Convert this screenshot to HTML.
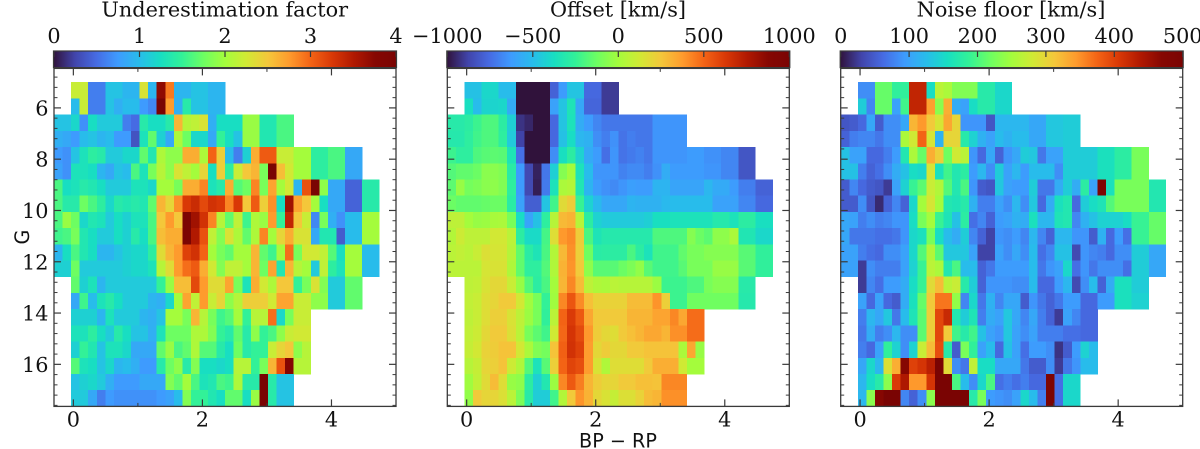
<!DOCTYPE html>
<html lang="en">
<head>
<meta charset="utf-8">
<title>Underestimation factor, offset and noise floor heatmaps</title>
<style>
html,body{margin:0;padding:0;background:#fff;width:1200px;height:449px;overflow:hidden}
svg{display:block}
text{fill:#111}
.serif{font-family:"DejaVu Serif","Liberation Serif",serif;font-size:20.8px}
.sans{font-family:"DejaVu Sans","Liberation Sans",sans-serif;font-size:19.2px}
</style>
</head>
<body>
<svg id="figure" xmlns="http://www.w3.org/2000/svg" width="1200" height="449" viewBox="0 0 1200 449">
  <defs id="defs"></defs>
  <g id="panel-0"></g>
  <g id="panel-1"></g>
  <g id="panel-2"></g>
  <text class="serif" x="224.7" y="16.5" text-anchor="middle">Underestimation factor</text>
  <text class="serif" x="618" y="16.5" text-anchor="middle">Offset [km/s]</text>
  <text class="serif" x="1011" y="16.5" text-anchor="middle">Noise floor [km/s]</text>
  <text class="sans" x="618" y="447.5" text-anchor="middle">BP − RP</text>
  <text class="sans" x="29" y="237" text-anchor="middle" transform="rotate(-90 29 237)">G</text>
</svg>
<script>
const _ = null;
const underestimationRows = [
[_,_,2.2,2.2,.6,.6,1.05,1.05,.95,.95,2.3,.95,3.7,2.9,.95,.95,1.05,1.05,.95,.95],
[_,_,1,2.2,.6,.6,1.05,.9,1,1,.75,.65,4,2.75,.9,1.4,1.05,1.05,.95,.95],
[1.05,1.05,1.2,.7,1.25,1.1,1.1,1.1,.6,.5,1.4,1.25,1.25,1.4,2.6,2.1,2.15,2.3,.9,1.25,1.25,1.25,1.95,1.95,1.35,1.35,1.6,1.6],
[.9,.85,.75,1,1.05,.95,1,.75,.75,.35,1.3,1.7,1.15,.85,2.05,1.75,1.2,1.2,.85,1.5,1.25,1.05,1.95,1.95,1.35,1.35,1.6,1.6],
[.75,.7,1.05,1.3,1.45,1.4,1.1,1.1,1.2,1.2,1.7,1.35,2.05,1.9,1.9,2.65,2.65,2.05,3,2.45,1,.6,1.15,2.65,3.05,3.05,2.2,2.2,2,2,1.45,1.45,1.6,1.6,.85,.85],
[.8,.7,1.3,1.3,1.25,.95,.85,1.05,1,1.6,1.3,1.8,2.1,1.9,2.3,2.15,2,2.4,1.25,2.45,1.45,2.2,2.5,2.6,1.8,4,2.55,2.25,2,2,1.45,1.45,1.6,1.6,.85,.85],
[1.6,1.25,1.3,1.4,1.35,1.25,1.1,1.1,1.1,1.3,1.3,1.2,2,2,1.8,2.65,2.65,2.85,1.3,1.4,2.65,1.65,1.75,2.85,1.8,2.7,2,2.25,.95,3.1,4,1.9,.85,.85,.45,.45,1.4,1.4],
[1.6,1.4,1.4,1.75,1.6,1.45,1.2,1.4,1.35,1.4,1.35,1.7,2.6,2.4,2.8,3.25,3.35,3.15,3.3,3.25,2.85,3.25,2.5,3.05,2.45,2.8,1.25,3.6,2.7,2.5,2,1.25,.85,.85,.45,.45,1.4,1.4],
[1.6,1.95,1.75,1.2,1.35,1.3,1.1,1.25,1.15,1.3,1.3,1.6,2.5,2.75,2.5,3.95,3.6,3.3,2.85,2.1,1.7,2.15,1.55,2.05,1.95,2.75,1.5,3.4,2.5,2.2,.65,1.8,.9,.7,1,1,2,2],
[1.55,1.6,1.8,1.35,1.25,1.1,1.1,1.25,1.15,1.4,1.25,1.6,2.55,2.65,2.65,3.95,3.5,3.1,2.15,1.85,2.3,2.05,1.7,2.05,2.85,2,2.4,2.65,2.3,2.3,.85,1.35,1.35,.4,1,1,2,2],
[.95,1.25,1.6,1.35,1.25,.95,.95,1.05,1.15,1.2,1.2,1.45,2.35,2.6,2.75,3.2,3.3,3,2,1.8,1.7,2,2,2.6,1.7,1.55,2,2.95,1.8,2.25,2.25,2.15,1.65,1.25,2,2,1,1],
[1.15,1.15,1.75,1.1,1.1,1.1,1.1,1.1,1.15,1.2,1.2,1.3,2.1,2.35,2.75,2.95,3.05,2.65,2.25,1.85,2.15,2.15,2,2.6,1.75,2.7,1.35,2.6,2.1,2,1.1,2.15,1.45,1.3,2,2,1,1],
[_,_,1.7,1.15,1.3,.95,1.1,1.1,1.1,1.1,1.1,1.1,1.5,1.95,2.55,2.55,3.15,2.75,2.35,2.35,2.7,1.8,1.3,2.65,2.25,2.05,2.5,2.5,1.5,1.8,2.3,1.85,1.1,1.1,1.7,1.7],
[_,_,.85,1.55,1,1.3,1.4,1.25,1.1,1.1,1.1,.95,.9,1.2,2,2.7,2.15,2.75,2.2,2.4,1.9,2.1,2.45,2.45,2.45,2.25,2.7,2.7,2.2,2.2,1.9,1.9,1.1,1.1,1.7,1.7],
[_,_,1.15,1.15,1.15,.95,1.3,1.1,1.1,1.1,.95,.9,1.05,2,2,1.8,2.6,2.1,1.8,1.55,1.65,2,1.5,2.1,2.1,2.95,1.2,1.8,2.2,2.2],
[_,_,1.3,1.3,1.45,1.25,1.1,1.4,1.25,1.05,1.05,.9,1.3,1.75,1.75,1.75,2.05,2.05,1.85,1.5,1.4,1.7,1.4,1.9,1.5,1.6,1.9,2.2,2.25,2.25],
[_,_,1.15,1.5,1.35,1.05,1.3,1.3,1.2,.85,.85,.85,1.7,1.95,1.6,1.7,2.05,1.65,1.65,1.4,1.25,1.75,1.4,1.5,1.5,2.2,2.4,2.5,1.9,2.1],
[_,_,1.65,1.3,1.25,1.05,1.2,.95,1,.9,.75,.75,1.4,1.75,1.9,1.4,1.85,1.25,1.25,1.2,1.25,2.1,2.1,1.5,1.8,2.6,3.1,3.8,2.1,2.1],
[_,_,1.05,1.15,1.2,1.1,.9,.75,.75,.75,.85,.85,.85,1.85,1.7,2,1.6,1.3,1.35,1.6,1.55,2.05,1.4,1.4,4,1.4,1.05,1.05],
[_,_,1.1,1.1,.85,.6,.75,.7,.7,.7,.7,.7,.75,.8,1,1.85,1.5,1.5,1.35,1.25,1.7,1.7,1.25,1.95,4,1.4,1.05,1.05]
];
const offsetRows = [
[_,_,-480,-480,-400,-400,-500,-500,-1000,-1000,-1000,-1000,-780,-620,-470,-470,-760,-760,-900,-900],
[_,_,-370,-500,-410,-410,-400,-560,-1000,-1000,-1000,-1000,-600,-470,-340,-580,-770,-770,-900,-900],
[-300,-300,-280,-230,-190,-190,-280,-430,-920,-950,-1000,-1000,-760,-470,-350,-560,-620,-680,-720,-720,-720,-720,-720,-720,-640,-640,-640,-640],
[-310,-310,-270,-220,-190,-190,-270,-450,-880,-1000,-1000,-1000,-760,-480,-380,-520,-540,-660,-700,-650,-730,-700,-720,-720,-640,-640,-640,-640],
[-230,-270,-270,-190,-170,-160,-170,-340,-740,-1000,-1000,-1000,-660,-370,-280,-420,-570,-620,-740,-640,-730,-710,-690,-720,-640,-640,-640,-640,-620,-620,-650,-650,-680,-680,-820,-820],
[-180,-150,-150,-130,-60,-60,-80,-290,-620,-860,-960,-720,-430,-70,0,-350,-500,-640,-640,-640,-690,-670,-670,-700,-650,-560,-620,-620,-620,-620,-640,-640,-680,-680,-820,-820],
[-160,-30,-110,-90,-60,-50,-80,-270,-620,-860,-970,-710,-350,20,40,-330,-530,-620,-650,-670,-640,-610,-620,-620,-530,-530,-590,-590,-590,-590,-520,-570,-570,-620,-700,-700,-780,-780],
[-130,-150,-150,-150,-140,-130,-130,-290,-600,-790,-790,-470,-220,180,230,-240,-420,-510,-580,-580,-580,-530,-540,-540,-540,-510,-500,-500,-500,-500,-500,-600,-600,-600,-680,-680,-760,-760],
[70,70,0,-30,-20,10,20,-100,-380,-590,-480,-270,50,290,310,50,-280,-420,-450,-450,-450,-450,-450,-430,-370,-370,-350,-350,-350,-350,-350,-310,-310,-350,-280,-280,-370,-370],
[40,110,70,70,70,130,130,60,-280,-390,-390,-210,170,380,410,230,-200,-340,-310,-310,-310,-310,-310,-310,-190,-190,-190,-190,-70,-130,-160,-50,-50,20,-330,-330,-400,-400],
[60,80,60,100,160,140,140,50,-150,-290,-340,-200,40,290,400,220,-120,-290,-280,-280,-280,-200,-280,-350,-220,-220,-220,-150,-100,-100,-70,-70,-70,-70,-170,-170,-260,-260],
[60,60,60,60,140,150,150,30,-150,-270,-270,-180,30,310,390,240,-50,-170,-170,-170,-130,-90,-40,-170,-220,-220,-220,-170,-100,-100,-100,-30,-30,-30,-170,-170,-260,-260],
[_,_,70,80,150,190,190,100,-30,-180,-280,-200,0,300,420,280,70,30,20,60,50,50,50,50,-20,-230,-230,-230,-190,-190,-100,-70,-70,-70,-300,-300],
[_,_,80,100,170,200,240,240,130,-10,-100,-250,-10,420,540,410,270,210,210,210,210,280,280,280,390,220,-230,-230,-120,-120,-120,-120,-120,-120,-310,-310],
[_,_,70,100,170,220,220,150,70,-20,-100,-260,60,500,620,530,340,240,240,240,240,300,300,300,350,350,420,340,480,480],
[_,_,80,110,190,240,240,160,60,-100,-160,-220,120,490,640,570,380,230,190,170,240,270,300,340,340,300,400,400,480,480],
[_,_,90,130,210,230,260,260,130,20,-80,-110,260,510,650,600,370,190,230,190,190,240,240,260,260,260,260,20,340,-30],
[_,_,50,90,200,220,260,110,30,-180,-350,-170,220,500,590,560,370,150,30,170,170,170,170,240,320,320,320,120,0,0],
[_,_,-10,80,180,280,170,-30,-50,-280,-430,-320,-20,420,530,440,300,230,200,200,240,240,270,270,260,420,420,420],
[_,_,-40,240,200,200,160,60,-90,-300,-440,-440,-220,40,240,390,310,190,150,90,160,160,210,280,300,400,400,400]
];
const noiseFloorRows = [
[_,_,85,85,215,215,185,185,425,425,155,265,255,230,230,230,175,175,150,150],
[_,_,140,80,215,215,100,195,425,425,340,235,330,110,100,155,175,175,150,150],
[45,50,60,105,50,85,85,105,325,345,310,285,335,300,90,90,90,45,120,120,120,120,105,105,135,135,140,140],
[55,75,80,80,70,85,85,255,280,375,285,115,300,300,175,145,115,100,125,115,125,125,105,105,135,135,140,140],
[130,100,100,60,60,75,95,170,255,215,330,305,220,280,265,90,60,105,55,90,105,140,135,70,100,100,140,140,140,140,160,160,180,180,225,225],
[130,130,75,55,65,85,110,130,155,150,285,160,195,170,180,95,120,85,140,100,120,95,125,125,125,85,140,140,140,140,160,160,180,180,225,225],
[50,80,60,50,45,25,100,145,190,210,275,260,205,170,200,90,50,45,135,100,95,95,140,70,70,110,140,110,180,100,490,160,225,225,225,225,170,170],
[50,50,85,45,15,55,80,55,150,250,285,250,170,165,175,115,75,75,100,85,120,85,135,60,110,160,170,60,140,155,165,205,225,225,225,225,170,170],
[105,100,75,85,75,80,90,90,155,225,250,190,165,130,180,65,80,55,95,100,115,110,160,120,120,165,170,80,115,130,145,145,145,155,190,190,215,215],
[105,70,70,70,65,65,70,90,150,160,225,155,125,110,140,80,55,30,90,85,95,80,120,80,55,120,120,90,90,50,115,60,95,65,190,190,215,215],
[100,100,75,65,60,85,85,100,150,205,260,210,135,135,135,100,30,30,100,85,105,85,125,65,80,130,130,35,90,80,75,60,85,85,140,140,105,105],
[100,100,25,85,75,75,75,100,145,190,265,255,170,200,125,125,55,70,95,95,95,95,125,70,90,100,150,65,90,70,85,85,85,65,140,140,105,105],
[_,_,25,80,65,95,95,110,155,190,295,320,265,275,175,140,55,90,90,90,85,85,125,60,60,95,120,35,85,125,55,110,160,160,140,140],
[_,_,100,60,100,60,50,110,160,215,310,365,365,240,80,150,70,115,80,105,105,50,90,70,55,70,95,95,60,60,95,95,160,160,145,145],
[_,_,75,120,105,135,70,125,165,210,305,395,420,170,140,165,75,110,100,135,105,80,105,75,55,25,100,80,60,60],
[_,_,70,110,75,85,120,85,85,210,305,395,310,195,175,195,130,100,90,135,100,85,100,75,75,75,65,65,60,60],
[_,_,75,60,100,185,145,85,145,275,320,390,175,50,225,185,100,125,60,130,100,65,95,95,85,20,50,95,145,125],
[_,_,105,150,120,290,330,470,400,410,430,500,295,85,70,270,155,155,105,105,105,70,50,50,85,25,70,90,125,125],
[_,_,120,155,175,235,405,440,345,345,410,500,500,200,125,85,150,200,65,75,65,75,60,60,490,65,150,150],
[_,_,120,235,470,500,500,80,55,85,235,500,500,500,500,175,225,95,90,85,100,150,125,75,495,65,150,150]
];
const colorbarTicksUnder = [0,1,2,3,4];
const colorbarTicksOffset = [-1000,-500,0,500,1000];
const colorbarTicksNoise = [0,100,200,300,400,500];
const xMajorTicks = [0,2,4];
const xMinorTicks = [1,3];
const yMajorTicks = [6,8,10,12,14,16];
const yMinorTicks = [4.8,5.2,5.6,6.4,6.8,7.2,7.6,8.4,8.8,9.2,9.6,10.4,10.8,11.2,11.6,12.4,12.8,13.2,13.6,14.4,14.8,15.2,15.6,16.4,16.8,17.2,17.6];

const NS = 'http://www.w3.org/2000/svg';
const FRAME_COLOR = '#3a3a3a';
const X_MIN = -0.3, X_MAX = 5, X_STEP = 5.04 / 38;
const G_TOP = 4.46, G_BOTTOM = 17.64, G_START = 5, G_STEP = 0.632;
const TOP = 68.4, BOTTOM = 406.4, PANEL_W = 342;
const CB_TOP = 51, CB_BOTTOM = 67.6;
const TURBO = [[48,18,59],[65,69,171],[70,107,227],[62,155,254],[40,188,235],[24,222,194],[50,241,152],[109,254,98],[164,252,60],[209,233,52],[244,199,58],[254,155,45],[243,99,21],[217,56,6],[177,25,1],[134,7,2],[122,4,3]];

function turbo(t) {
  const x = Math.max(0, Math.min(1, t)) * (TURBO.length - 1);
  const i = Math.min(TURBO.length - 2, Math.floor(x));
  const f = x - i;
  const c = k => Math.round(TURBO[i][k] + (TURBO[i + 1][k] - TURBO[i][k]) * f);
  return 'rgb(' + c(0) + ',' + c(1) + ',' + c(2) + ')';
}
function el(parent, tag, attrs) {
  const e = document.createElementNS(NS, tag);
  for (const k in attrs) e.setAttribute(k, attrs[k]);
  parent.appendChild(e);
  return e;
}
function tickLine(g, x1, y1, x2, y2, w) {
  const l = el(g, 'line', {x1: x1, y1: y1, x2: x2, y2: y2, stroke: FRAME_COLOR, 'stroke-width': w});
  
  
}

const panels = [
  {left: 54, rows: underestimationRows, vmin: 0, vmax: 4, cb: colorbarTicksUnder, yLabels: true},
  {left: 447.3, rows: offsetRows, vmin: -1000, vmax: 1000, cb: colorbarTicksOffset, yLabels: false},
  {left: 840.7, rows: noiseFloorRows, vmin: 0, vmax: 500, cb: colorbarTicksNoise, yLabels: false}
];
const defs = document.getElementById('defs');

panels.forEach(function (p, idx) {
  const g = document.getElementById('panel-' + idx);
  const right = p.left + PANEL_W;
  const xScale = v => p.left + (v - X_MIN) / (X_MAX - X_MIN) * PANEL_W;
  const yScale = v => TOP + (v - G_TOP) / (G_BOTTOM - G_TOP) * (BOTTOM - TOP);
  const frac = v => (v - p.vmin) / (p.vmax - p.vmin);

  const cells = el(g, 'g', {'shape-rendering': 'crispEdges'});
  
  
  p.rows.forEach(function (row, r) {
    row.forEach(function (v, c) {
      if (v === null) return;
      const x0 = xScale(X_MIN + c * X_STEP), x1 = xScale(X_MIN + (c + 1) * X_STEP);
      const y0 = yScale(G_START + r * G_STEP), y1 = yScale(G_START + (r + 1) * G_STEP);
      const cell = el(cells, 'rect', {x: x0, y: y0, width: x1 - x0 + 0.3, height: y1 - y0 + 0.3, fill: turbo(frac(v))});
      
      
    });
  });

  const frame = el(g, 'rect', {x: p.left, y: TOP, width: PANEL_W, height: BOTTOM - TOP, fill: 'none', stroke: FRAME_COLOR, 'stroke-width': 1.3});
  
  

  xMajorTicks.forEach(function (v) {
    const x = xScale(v);
    tickLine(g, x, TOP, x, TOP + 7, 1.2);
    tickLine(g, x, BOTTOM, x, BOTTOM - 7, 1.2);
    const t = el(g, 'text', {x: x, y: 426.5, 'text-anchor': 'middle', 'class': 'serif'});
    t.textContent = String(v);
    
    
  });
  xMinorTicks.forEach(function (v) {
    const x = xScale(v);
    tickLine(g, x, TOP, x, TOP + 3.5, 1);
    tickLine(g, x, BOTTOM, x, BOTTOM - 3.5, 1);
  });
  yMajorTicks.forEach(function (v) {
    const y = yScale(v);
    tickLine(g, p.left, y, p.left + 7, y, 1.2);
    tickLine(g, right, y, right - 7, y, 1.2);
    if (p.yLabels) {
      const t = el(g, 'text', {x: 48.5, y: y + 7.5, 'text-anchor': 'end', 'class': 'serif'});
      t.textContent = String(v);
      
      
    }
  });
  yMinorTicks.forEach(function (v) {
    const y = yScale(v);
    tickLine(g, p.left, y, p.left + 3.5, y, 1);
    tickLine(g, right, y, right - 3.5, y, 1);
  });

  const grad = el(defs, 'linearGradient', {id: 'turbo-' + idx, x1: 0, x2: 1, y1: 0, y2: 0});
  for (let i = 0; i <= 32; i++) {
    el(grad, 'stop', {offset: i / 32, 'stop-color': turbo(i / 32)});
  }
  const bar = el(g, 'rect', {x: p.left - 0.5, y: CB_TOP, width: PANEL_W + 1, height: CB_BOTTOM - CB_TOP, fill: 'url(#turbo-' + idx + ')', stroke: FRAME_COLOR, 'stroke-width': 1.2});
  
  
  const cbScale = v => p.left + frac(v) * PANEL_W;
  p.cb.forEach(function (v) {
    const x = cbScale(v);
    tickLine(g, x, CB_TOP, x, CB_TOP + 6, 1.2);
    const t = el(g, 'text', {x: x, y: 43, 'text-anchor': 'middle', 'class': 'serif'});
    t.textContent = String(v).replace('-', '\u2212');
    
    
  });
});
</script>
</body>
</html>
